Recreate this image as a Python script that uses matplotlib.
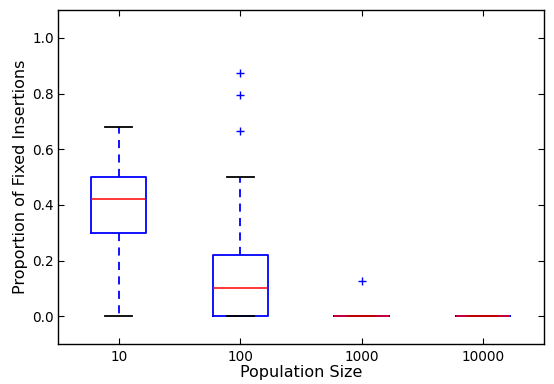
import matplotlib
matplotlib.use("Agg")
import matplotlib.pyplot as plt

# population sizes and box statistics
labels = ['10', '100', '1000', '10000']
q1 = [0.30, 0.0, 0.0, 0.0]
med = [0.42, 0.10, 0.0, 0.0]
q3 = [0.50, 0.22, 0.0, 0.0]
whislo = [0.0, 0.0, 0.0, 0.0]
whishi = [0.68, 0.50, 0.0, 0.0]
fliers = [[], [0.667, 0.795, 0.875], [0.125], []]

stats = []
for i in range(len(labels)):
    stats.append({'label': labels[i], 'q1': q1[i], 'med': med[i], 'q3': q3[i],
                  'whislo': whislo[i], 'whishi': whishi[i], 'fliers': fliers[i]})

fig = plt.figure(figsize=(5.54, 3.84), dpi=100)
ax = fig.add_axes([0.1047, 0.104, 0.877, 0.870])

ax.bxp(stats, widths=0.45,
       boxprops=dict(color='b', linewidth=1.3),
       whiskerprops=dict(color='b', linestyle='--', linewidth=1.3, dashes=(4.5, 3.5)),
       capprops=dict(color='k', linewidth=1.3),
       medianprops=dict(color='r', linewidth=1.1),
       flierprops=dict(marker='+', markeredgecolor='b', markersize=6,
                       markeredgewidth=1.0, linestyle='none'))

ax.set_xlim(0.5, 4.5)
ax.set_ylim(-0.1, 1.1)
ax.set_yticks([0.0, 0.2, 0.4, 0.6, 0.8, 1.0])
ax.tick_params(direction='in', top=True, right=True, labelsize=9.8,
               length=4, width=0.8)
ax.tick_params(axis='x', pad=4)
ax.tick_params(axis='y', pad=3)
for s in ax.spines.values():
    s.set_linewidth(1.0)
ax.set_xlabel('Population Size', fontsize=11.5, labelpad=1)
ax.set_ylabel('Proportion of Fixed Insertions', fontsize=11.5, labelpad=3)

fig.savefig('out.png', dpi=100)
